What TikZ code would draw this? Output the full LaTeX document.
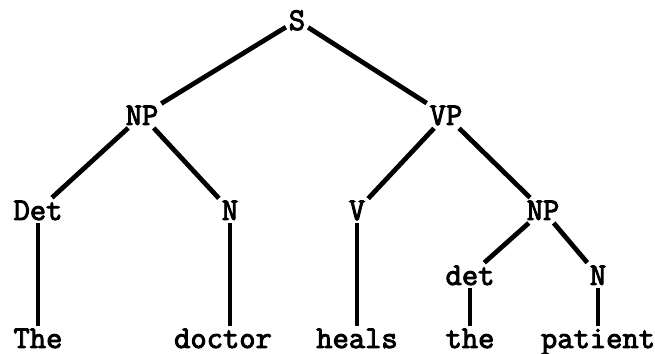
\documentclass[tikz,border=0pt]{standalone}
\usepackage{fontspec}
\usepackage{tikz}
\newfontfamily\treefont[FakeBold=3]{Latin Modern Mono}
\tikzset{
  cat/.style={anchor=base,inner sep=1.5pt,font=\fontsize{18}{22}\selectfont\treefont},
  branch/.style={line width=2.7pt}
}
\begin{document}
\begin{tikzpicture}
\useasboundingbox (0,0) rectangle (13.1,-7.08);
\node[cat] (s) at (5.94,-0.6) {S};
\node[cat] (np) at (2.84,-2.5) {NP};
\node[cat] (vp) at (8.92,-2.5) {VP};
\node[cat] (det) at (0.76,-4.4) {Det};
\node[cat] (n) at (4.6,-4.4) {N};
\node[cat] (v) at (7.14,-4.4) {V};
\node[cat] (np2) at (10.86,-4.4) {NP};
\node[cat] (det2) at (9.4,-5.7) {det};
\node[cat] (n2) at (11.96,-5.7) {N};
\node[cat] (the) at (0.76,-6.96) {The};
\node[cat] (doctor) at (4.46,-6.96) {doctor};
\node[cat] (heals) at (7.14,-6.96) {heals};
\node[cat] (the2) at (9.4,-6.96) {the};
\node[cat] (patient) at (11.96,-6.96) {patient};
\draw[branch] (s) -- (np);
\draw[branch] (s) -- (vp);
\draw[branch] (np) -- (det);
\draw[branch] (np) -- (n);
\draw[branch] (vp) -- (v);
\draw[branch] (vp) -- (np2);
\draw[branch] (np2) -- (det2);
\draw[branch] (np2) -- (n2);
\draw[branch] (det) -- (the);
\draw[branch] (n) -- (n |- doctor.north);
\draw[branch] (v) -- (heals);
\draw[branch] (det2) -- (the2);
\draw[branch] (n2) -- (patient);
\end{tikzpicture}
\end{document}
